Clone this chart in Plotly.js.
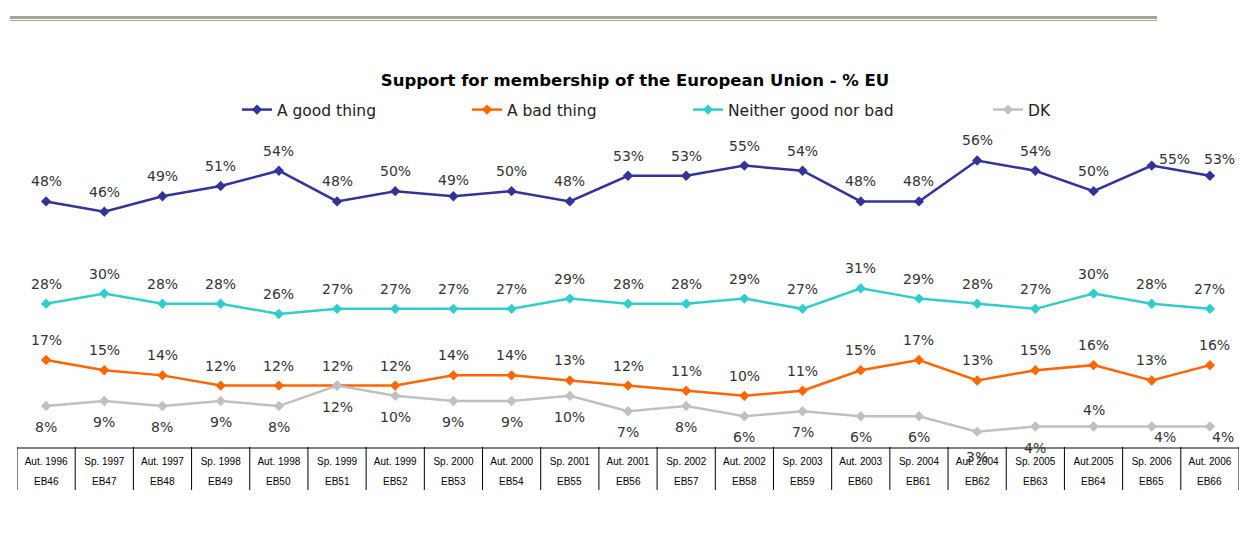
<!DOCTYPE html>
<html>
<head>
<meta charset="utf-8">
<script src="https://cdn.plot.ly/plotly-3.0.1.min.js"></script>
<style>
  html, body { margin: 0; padding: 0; background: #ffffff; }
  #chart { width: 1239px; height: 545px; }
</style>
</head>
<body>
<div id="chart"></div>
<script>
// ---- data ----
var surveys = ["EB46","EB47","EB48","EB49","EB50","EB51","EB52","EB53","EB54","EB55","EB56","EB57","EB58","EB59","EB60","EB61","EB62","EB63","EB64","EB65","EB66"];
var periods = ["Aut. 1996","Sp. 1997","Aut. 1997","Sp. 1998","Aut. 1998","Sp. 1999","Aut. 1999","Sp. 2000","Aut. 2000","Sp. 2001","Aut. 2001","Sp. 2002","Aut. 2002","Sp. 2003","Aut. 2003","Sp. 2004","Aut. 2004","Sp. 2005","Aut.2005","Sp. 2006","Aut. 2006"];
var goodThing = [48,46,49,51,54,48,50,49,50,48,53,53,55,54,48,48,56,54,50,55,53];
var badThing  = [17,15,14,12,12,12,12,14,14,13,12,11,10,11,15,17,13,15,16,13,16];
var neither   = [28,30,28,28,26,27,27,27,27,29,28,28,29,27,31,29,28,27,30,28,27];
var dk        = [8,9,8,9,8,12,10,9,9,10,7,8,6,7,6,6,3,4,4,4,4];
var seriesNames = ["A good thing","A bad thing","Neither good nor bad","DK"];

// ---- styles ----
var colors = ["#333399","#FF6600","#33CCCC","#C0C0C0"];
var legendStarts = [245, 475, 696, 996];   // px, left of legend symbol
var W = 1239, H = 545, ML = 17, MR = 0, MT = 140, MB = 98;
var plotW = W - ML - MR, plotH = H - MT - MB;

var allSeries = [goodThing, badThing, neither, dk];
var defaultShift = [20, 20, 20, -21];
// label offset overrides: [seriesIndex, pointIndex, xshift, yshift]
var labelOverrides = [
  [0, 7, 0, 16],
  [0, 19, 23, 7],
  [0, 20, 10, 17],
  [1, 20, 5, 20],
  [3, 16, 0, -25],
  [3, 18, 0, 17],
  [3, 19, 13, -10],
  [3, 20, 13, -10]
];

var legendIds = ["legend","legend2","legend3","legend4"];
var traces = allSeries.map(function(vals, s) {
  return {
    type: "scatter",
    mode: "lines+markers",
    name: seriesNames[s],
    x: surveys,
    y: vals,
    line: {color: colors[s], width: 2.5},
    marker: {symbol: "diamond", size: 8, color: colors[s]},
    legend: legendIds[s],
    hoverinfo: "x+y+name"
  };
});

var annotations = [];
allSeries.forEach(function(vals, s) {
  vals.forEach(function(v, i) {
    var xs = 0, ys = defaultShift[s];
    labelOverrides.forEach(function(o) {
      if (o[0] === s && o[1] === i) { xs = o[2]; ys = o[3]; }
    });
    annotations.push({
      x: surveys[i], y: v, xref: "x", yref: "y",
      text: v + "%", showarrow: false,
      xshift: xs, yshift: ys,
      font: {family: "DejaVu Sans", size: 14, color: "#333333"}
    });
  });
});
// second row of the table: survey codes
surveys.forEach(function(sv) {
  annotations.push({
    x: sv, y: 0, xref: "x", yref: "paper",
    text: sv, showarrow: false, yshift: -34, yanchor: "middle",
    font: {family: "Liberation Sans", size: 10, color: "#000000"}
  });
});

var shapes = [];
// table vertical separators
for (var b = 0; b <= surveys.length; b++) {
  shapes.push({
    type: "line", xref: "x", yref: "paper",
    x0: b - 0.5, x1: b - 0.5, y0: 0, y1: -43 / plotH,
    line: {color: "#000000", width: 1}
  });
}
// decorative double rule at top
function px2x(px) { return (px - ML) / plotW; }
function py2y(py) { return (H - MB - py) / plotH; }
shapes.push({type: "rect", xref: "paper", yref: "paper",
  x0: px2x(10), x1: px2x(1157), y0: py2y(19), y1: py2y(16),
  fillcolor: "#A6A393", line: {width: 0}});
shapes.push({type: "line", xref: "paper", yref: "paper",
  x0: px2x(10), x1: px2x(1157), y0: py2y(20.5), y1: py2y(20.5),
  line: {color: "#A6A393", width: 1}});

var layout = {
  width: W, height: H,
  margin: {l: ML, r: MR, t: MT, b: MB, pad: 0},
  paper_bgcolor: "#ffffff", plot_bgcolor: "#ffffff",
  title: {
    text: "<b>Support for membership of the European Union - % EU</b>",
    font: {family: "DejaVu Sans", size: 16.5, color: "#000000"},
    xref: "container", yref: "container",
    x: 635 / W, xanchor: "center", y: 1 - 80 / H, yanchor: "middle"
  },
  xaxis: {
    type: "category",
    range: [-0.5, surveys.length - 0.5],
    tickvals: surveys, ticktext: periods,
    ticks: "", showgrid: false, zeroline: false,
    showline: true, linecolor: "#808080", linewidth: 1.5,
    tickfont: {family: "Liberation Sans", size: 10, color: "#000000"},
    ticklabelstandoff: 4,
    fixedrange: true
  },
  yaxis: {
    range: [0, 60], visible: false, showgrid: false, zeroline: false,
    fixedrange: true
  },
  showlegend: true,
  annotations: annotations,
  shapes: shapes,
  hovermode: "closest"
};
legendIds.forEach(function(id, s) {
  layout[id] = {
    orientation: "h",
    xref: "container", yref: "container",
    x: (legendStarts[s] - 8) / W, xanchor: "left",
    y: 1 - 110 / H, yanchor: "middle",
    bgcolor: "rgba(0,0,0,0)",
    font: {family: "DejaVu Sans", size: 15.5, color: "#222222"}
  };
});

Plotly.newPlot("chart", traces, layout, {displayModeBar: false, staticPlot: false});
</script>
</body>
</html>
